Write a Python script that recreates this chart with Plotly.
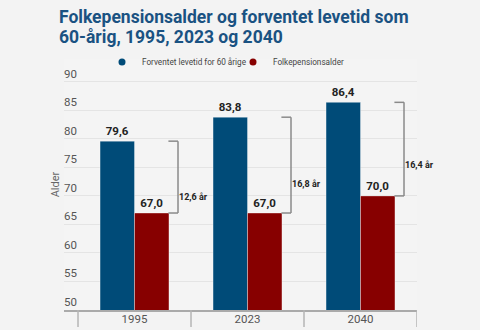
import plotly.graph_objects as go

years = ["1995", "2023", "2040"]
life_expectancy = [79.6, 83.8, 86.4]
pension_age = [67.0, 67.0, 70.0]
series_names = ["Forventet levetid for 60 årige", "Folkepensionsalder"]
title_lines = ["Folkepensionsalder og forventet levetid som", "60-årig, 1995, 2023 og 2040"]
y_ticks = [50, 55, 60, 65, 70, 75, 80, 85, 90]
gap_label_yshift = [-20, -19, -16]

BLUE = "#004b78"
RED = "#870000"
FONT = "Roboto"

L, R, T, B = 64, 63, 59, 20
W, H = 480, 330
pw, ph = W - L - R, H - T - B

def px_x(px):
    return (px - L) / pw

def px_y(py):
    return (H - B - py) / ph

fig = go.Figure()
for name, vals, col in [(series_names[0], life_expectancy, BLUE), (series_names[1], pension_age, RED)]:
    fig.add_trace(go.Bar(
        x=years, y=vals, name=name, marker=dict(color=col, line=dict(color="rgba(255,255,255,0.35)", width=1)),
        texttemplate="%{y:.1f}", textposition="outside", cliponaxis=False,
        textfont=dict(family=FONT, size=11.5, color="#222", weight="bold"),
        showlegend=False, hoverinfo="skip",
    ))
    fig.add_trace(go.Scatter(
        x=[None], y=[None], mode="markers", name=name,
        marker=dict(color=col, size=7, symbol="circle"), hoverinfo="skip",
    ))

# brackets showing the difference
for i, (le, pa) in enumerate(zip(life_expectancy, pension_age)):
    x0, x1 = i + 0.30, i + 0.385
    for yv in (le, pa):
        fig.add_shape(type="line", xref="x", yref="y", x0=x0, x1=x1, y0=yv, y1=yv,
                      line=dict(color="#8a8a8a", width=1.5))
    fig.add_shape(type="line", xref="x", yref="y", x0=x1, x1=x1, y0=pa, y1=le,
                  line=dict(color="#8a8a8a", width=1.5))
    diff = le - pa
    fig.add_annotation(x=x1, y=(le + pa) / 2, xref="x", yref="y", xanchor="left", yanchor="middle",
                       xshift=-1, yshift=gap_label_yshift[i], showarrow=False,
                       text=f"{diff:.1f}".replace(".", ",") + " år",
                       font=dict(family=FONT, size=9, color="#222", weight="bold"))

# category boundary ticks below the axis
for i in range(len(years) + 1):
    fig.add_shape(type="line", xref="x", yref="paper", x0=i - 0.5, x1=i - 0.5, y0=0, y1=-17 / ph,
                  line=dict(color="#b5b5b5", width=1.5))

# title lines
for k, line in enumerate(title_lines):
    fig.add_annotation(x=px_x(57), y=px_y(28.5 + 20 * k), xref="paper", yref="paper",
                       xanchor="left", yanchor="bottom", showarrow=False, text=line,
                       font=dict(family=FONT, size=17.5, color="#1a5282", weight="bold"))

fig.update_layout(
    width=W, height=H, margin=dict(l=L, r=R, t=T, b=B, autoexpand=False),
    paper_bgcolor="#f3f3f3", plot_bgcolor="#f4f4f4",
    barmode="group", bargap=0.39, bargroupgap=0,
    separators=",.",
    font=dict(family=FONT, color="#555"),
    legend=dict(orientation="h", x=px_x(233), xanchor="center", y=px_y(62), yanchor="middle",
                font=dict(family=FONT, size=8.2, color="#444"), itemwidth=30,
                entrywidth=86, entrywidthmode="pixels",
                bgcolor="rgba(0,0,0,0)", traceorder="normal"),
    xaxis=dict(type="category", range=[-0.624, 2.5], showline=True, linecolor="#aaaaaa", linewidth=1.5,
               ticks="", ticklabelstandoff=-3, tickfont=dict(family=FONT, size=11.5, color="#555"),
               showgrid=False, fixedrange=True, automargin=False),
    yaxis=dict(range=[50, 94.0], tickvals=y_ticks, showgrid=True, gridcolor="#e4e4e4", gridwidth=1,
               zeroline=False, showline=False, ticklabelposition="inside top", ticklabelstandoff=-3,
               tickfont=dict(family=FONT, size=11.5, color="#555"),
               title=dict(text="Alder", standoff=2, font=dict(family=FONT, size=11, color="#666")),
               fixedrange=True, automargin=False),
    hovermode=False,
)

fig.write_html("out.html")
